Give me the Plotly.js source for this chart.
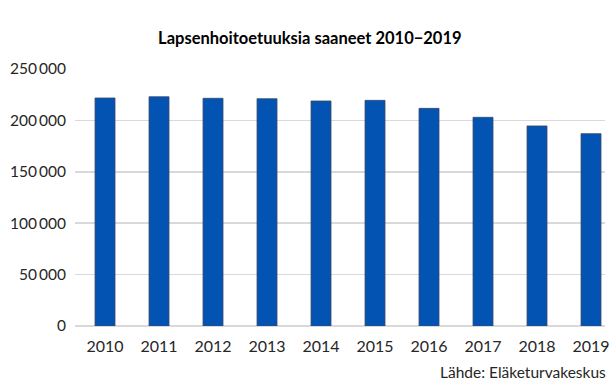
<!DOCTYPE html>
<html>
<head>
<meta charset="utf-8">
<script src="https://cdn.plot.ly/plotly-3.0.1.min.js"></script>
<style>html,body{margin:0;padding:0;background:#fff;}#chart{width:616px;height:390px;}</style>
</head>
<body>
<div id="chart"></div>
<script>
const years = ["2010","2011","2012","2013","2014","2015","2016","2017","2018","2019"];
const recipients = [221800, 223000, 221500, 221100, 218900, 219500, 211700, 203000, 194600, 187100];
const yTickVals = [0, 50000, 100000, 150000, 200000, 250000];
const yTickText = ["0", "50\u2009000", "100\u2009000", "150\u2009000", "200\u2009000", "250\u2009000"];
const titleText = "Lapsenhoitoetuuksia saaneet 2010\u22122019";
const sourceText = "Lähde: Eläketurvakeskus";

const font = "Lato, 'Open Sans', sans-serif";

Plotly.newPlot("chart", [{
  type: "bar",
  x: years.map((_, i) => i),
  y: recipients,
  width: 0.37,
  marker: {color: "#0353B3", line: {color: "#3a4a6a", width: 0.8}},
  hoverinfo: "skip"
}], {
  width: 616, height: 390,
  margin: {l: 75, r: 11, t: 69, b: 64},
  paper_bgcolor: "#fff", plot_bgcolor: "#fff",
  showlegend: false,
  font: {family: font, color: "#262626", size: 16},
  title: {text: "<b>" + titleText + "</b>", x: 0.503, xanchor: "center", y: 0.903, yanchor: "middle",
          font: {family: font, size: 16.5, color: "#000"}},
  xaxis: {
    range: [-0.556, 9.259], tickmode: "array",
    tickvals: years.map((_, i) => i), ticktext: years,
    showgrid: false, zeroline: false, showline: false, ticks: "", ticklabelstandoff: 9,
    tickfont: {family: font, size: 16, color: "#262626"}
  },
  yaxis: {
    range: [0, 250000], tickmode: "array", tickvals: yTickVals, ticktext: yTickText,
    showgrid: true, gridcolor: "#d9d9d9", gridwidth: 1.5, zeroline: true, zerolinecolor: "#d9d9d9", zerolinewidth: 1.5,
    showline: false, ticks: "", ticklabelstandoff: 8,
    tickfont: {family: font, size: 15.5, color: "#262626"}
  },
  annotations: [{
    text: sourceText, xref: "paper", yref: "paper", x: 1.006, y: -0.18,
    xanchor: "right", yanchor: "middle", showarrow: false,
    font: {family: font, size: 15.5, color: "#262626"}
  }]
}, {displayModeBar: false, staticPlot: true});
</script>
</body>
</html>
